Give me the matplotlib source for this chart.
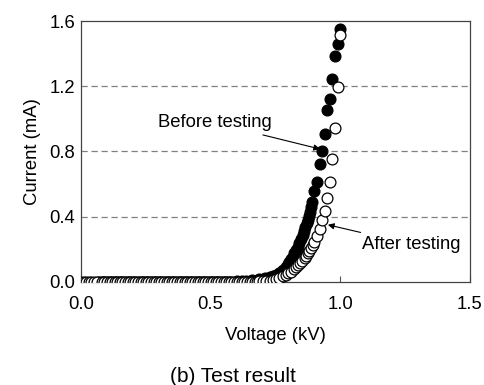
import matplotlib
matplotlib.use("Agg")
import matplotlib.pyplot as plt

plt.rcParams['font.family'] = ['Liberation Sans', 'DejaVu Sans']

# Before testing (filled circles): voltage in kV, current in mA
v_before = [0.065, 0.075, 0.085,
            0.09, 0.10, 0.11, 0.12, 0.13, 0.14, 0.15, 0.16, 0.17, 0.18, 0.19,
            0.20, 0.21, 0.22, 0.23, 0.24, 0.25, 0.26, 0.27, 0.28, 0.29,
            0.30, 0.31, 0.32, 0.33, 0.34, 0.35, 0.36, 0.37, 0.38, 0.39,
            0.40, 0.41, 0.42, 0.43, 0.44, 0.45, 0.46, 0.47, 0.48, 0.49,
            0.50, 0.51, 0.52, 0.53, 0.54, 0.55, 0.56, 0.57, 0.58,
            0.60, 0.62, 0.637, 0.66, 0.688, 0.71, 0.727, 0.74, 0.753, 0.765,
            0.772, 0.78, 0.791, 0.80, 0.804, 0.81, 0.817, 0.823, 0.829, 0.835,
            0.842, 0.848, 0.855, 0.86, 0.865, 0.87, 0.874, 0.879, 0.883, 0.888,
            0.892, 0.90, 0.91, 0.921, 0.931, 0.94, 0.947, 0.962, 0.968, 0.98,
            0.992, 1.0]
i_before = [0.0] * 53 + [
            0.004, 0.006, 0.008, 0.011, 0.016, 0.022, 0.029, 0.036, 0.043, 0.053,
            0.063, 0.075, 0.094, 0.112, 0.124, 0.138, 0.155, 0.175, 0.196, 0.215,
            0.237, 0.262, 0.288, 0.312, 0.339, 0.36, 0.38, 0.405, 0.43, 0.46,
            0.492, 0.557, 0.61, 0.725, 0.802, 0.906, 1.057, 1.125, 1.243, 1.388,
            1.459, 1.553]

# After testing (open circles)
v_after = [0.00, 0.01, 0.02, 0.03, 0.04, 0.05, 0.06, 0.08, 0.09,
           0.10, 0.11, 0.12, 0.13, 0.14, 0.15, 0.16, 0.17, 0.18, 0.19,
           0.20, 0.21, 0.22, 0.23, 0.24, 0.25, 0.26, 0.27, 0.28, 0.29,
           0.30, 0.31, 0.32, 0.33, 0.34, 0.35, 0.36, 0.37, 0.38, 0.39,
           0.40, 0.41, 0.42, 0.43, 0.44, 0.45, 0.46, 0.47, 0.48, 0.49,
           0.50, 0.51, 0.52, 0.53, 0.54, 0.55, 0.56, 0.57, 0.58, 0.59,
           0.60, 0.61, 0.62, 0.63, 0.64, 0.65, 0.66, 0.67, 0.68,
           0.688, 0.70, 0.714, 0.727, 0.74, 0.752, 0.765, 0.778, 0.791, 0.80,
           0.81, 0.82, 0.829, 0.837, 0.845, 0.853, 0.862, 0.868, 0.874, 0.881,
           0.887, 0.893, 0.899, 0.909, 0.921, 0.931, 0.941, 0.949, 0.962, 0.969,
           0.981, 0.991, 1.0]
i_after = [0.0] * 68 + [
           0.002, 0.003, 0.005, 0.008, 0.012, 0.017, 0.023, 0.033, 0.043, 0.052,
           0.063, 0.078, 0.094, 0.105, 0.115, 0.13, 0.145, 0.16, 0.176, 0.19,
           0.206, 0.226, 0.247, 0.284, 0.323, 0.38, 0.435, 0.512, 0.614, 0.755,
           0.943, 1.196, 1.513]

x_ticks = [0.0, 0.5, 1.0, 1.5]
y_ticks = [0.0, 0.4, 0.8, 1.2, 1.6]

fs = 13.3

fig = plt.figure(figsize=(4.85, 3.85), dpi=100)
ax = fig.add_axes([0.167, 0.268, 0.802, 0.677])

for y in [0.4, 0.8, 1.2]:
    ax.axhline(y, color='#808080', lw=0.9, ls=(0, (5, 3)), zorder=1)

ax.plot(v_before, i_before, 'o', ms=7.8, mfc='black', mec='black', mew=0.9, zorder=3)
ax.plot(v_after, i_after, 'o', ms=7.8, mfc='white', mec='black', mew=0.9, zorder=4)

ax.set_xlim(0, 1.5)
ax.set_ylim(0, 1.6)
ax.set_xticks(x_ticks)
ax.set_yticks(y_ticks)
ax.set_xticklabels(['%.1f' % t for t in x_ticks])
ax.set_yticklabels(['%.1f' % t for t in y_ticks])
ax.tick_params(axis='x', direction='in', length=4, width=0.8, color='#555555',
               labelsize=fs, pad=10)
ax.tick_params(axis='y', length=0, labelsize=fs, pad=4)
for s in ax.spines.values():
    s.set_color('#444444')
    s.set_linewidth(0.9)

ax.set_xlabel('Voltage (kV)', fontsize=fs, labelpad=10)
ax.set_ylabel('Current (mA)', fontsize=fs, labelpad=6)

ax.annotate('Before testing', xy=(0.922, 0.815), xytext=(0.515, 0.975),
            ha='center', va='center', fontsize=fs,
            arrowprops=dict(arrowstyle='-|>', color='black', lw=0.8,
                            mutation_scale=9, shrinkA=2, shrinkB=0))
ax.annotate('After testing', xy=(0.952, 0.35), xytext=(1.275, 0.23),
            ha='center', va='center', fontsize=fs,
            arrowprops=dict(arrowstyle='-|>', color='black', lw=0.8,
                            mutation_scale=9, shrinkA=2, shrinkB=0))

fig.text(0.481, 0.022, '(b) Test result', ha='center', va='center', fontsize=15)

fig.savefig('out.png', dpi=100)
